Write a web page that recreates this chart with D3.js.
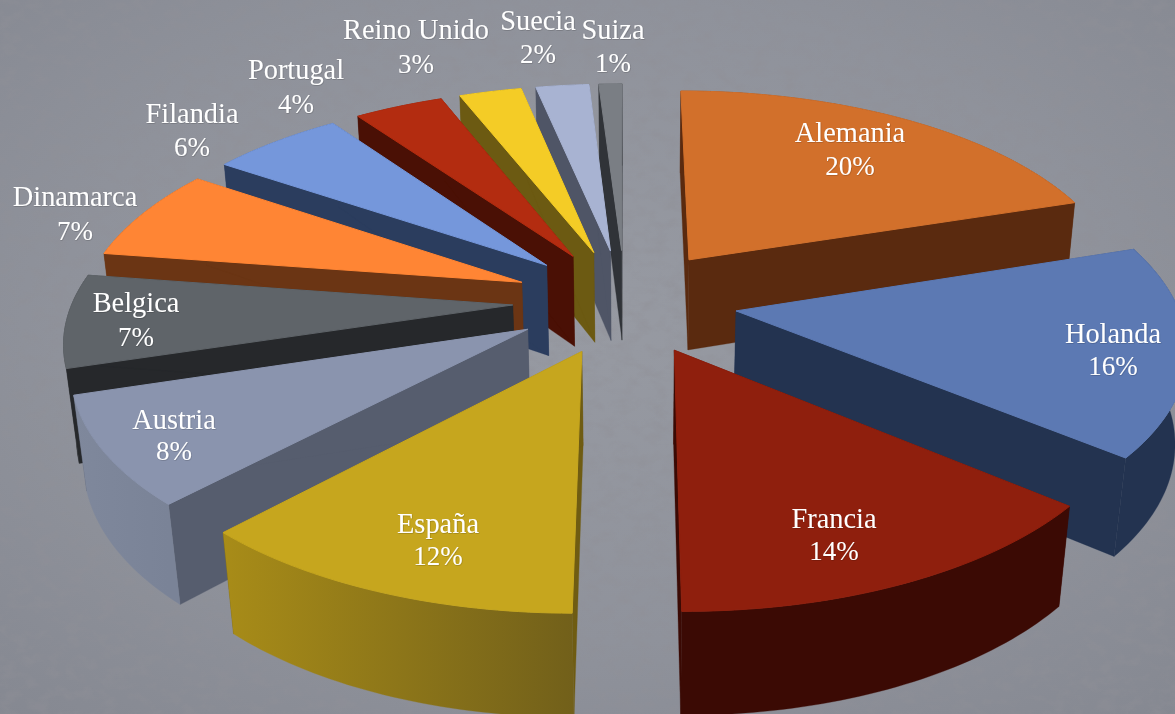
<!DOCTYPE html>
<html>
<head>
<meta charset="utf-8">
<style>
html,body{margin:0;padding:0;background:#8a8d96;overflow:hidden}
svg{display:block}
text{font-family:"Liberation Serif",serif;fill:#fff;text-anchor:middle}
.name{font-size:28.4px}
.pct{font-size:27px}
</style>
<script src="https://cdnjs.cloudflare.com/ajax/libs/d3/7.8.5/d3.min.js"></script>
</head>
<body>
<script>
// data
const categories = ["Alemania","Holanda","Francia","España","Austria","Belgica","Dinamarca","Filandia","Portugal","Reino Unido","Suecia","Suiza"];
const values = [20,16,14.05,12,8.2,7.1,7.1,5.7,3.85,2.7,2.3,1];
const valueLabels = ["20%","16%","14%","12%","8%","7%","7%","6%","4%","3%","2%","1%"];
// style
const topColors  = ["#D2702B","#5C79B3","#8F1F0D","#C6A61E","#8A94AE","#5F6469","#FF8534","#7597DB","#B32C10","#F4CC26","#A8B3D2","#7A7E84"];
const sideColors = ["#5A2A0F","#233350","#3B0A04","#6F5C12","#565D6E","#26282B","#6B3514","#2B3D5E","#4A1005","#6C5A12","#4F5566","#303338"];
const wallLeft   = ["#5A2A0F","#233350","#3B0A04","#A88C18","#7F889C","#26282B","#6B3514","#2B3D5E","#4A1005","#6C5A12","#4F5566","#303338"];
const wallRight  = ["#5A2A0F","#233350","#3B0A04","#72601A","#7A8397","#26282B","#6B3514","#2B3D5E","#4A1005","#6C5A12","#4F5566","#303338"];
// label layout (centre x, name centre y, value centre y)
const labelX  = [850,1113,834,438,174,136,75,192,296,416,538,613];
const labelY1 = [133,334,519,524,420,303,197,114,70,30,21,30];
const labelY2 = [166,366,551,556,451,337,231,147,104,64,54,63];

// camera
const W = 1175, H = 714;
const cam = {cx:625, cy:301, a:440, b:205.6, k:0.15, t:0.022, vx:640, vy:4570};
const explode = 0.255;
function project(u, v, depth){
  const w = 1 + cam.k*v;
  const x = cam.cx + cam.a*u/w;
  const y = cam.cy - cam.b*v/w;
  if(!depth) return [x,y];
  return [(x*w + cam.t*cam.vx)/(w+cam.t), (y*w + cam.t*cam.vy)/(w+cam.t)];
}

const svg = d3.select("body").append("svg").attr("width",W).attr("height",H);
const defs = svg.append("defs");
const bg = defs.append("radialGradient").attr("id","bg").attr("cx","50%").attr("cy","45%").attr("r","75%");
bg.append("stop").attr("offset","0%").attr("stop-color","#979AA2");
bg.append("stop").attr("offset","60%").attr("stop-color","#8F929B");
bg.append("stop").attr("offset","100%").attr("stop-color","#858891");
const f = defs.append("filter").attr("id","grain").attr("x",0).attr("y",0).attr("width","100%").attr("height","100%");
f.append("feTurbulence").attr("type","fractalNoise").attr("baseFrequency","0.06 0.09").attr("numOctaves",4).attr("seed",7);
f.append("feColorMatrix").attr("type","matrix").attr("values","0 0 0 0 0.28  0 0 0 0 0.28  0 0 0 0 0.31  3 0 0 0 -1.3");
const ts = defs.append("filter").attr("id","ts").attr("x","-20%").attr("y","-20%").attr("width","140%").attr("height","140%");
ts.append("feDropShadow").attr("dx",0.5).attr("dy",0.6).attr("stdDeviation",0.6).attr("flood-color","#000").attr("flood-opacity",0.25);

svg.append("rect").attr("width",W).attr("height",H).attr("fill","url(#bg)");
svg.append("rect").attr("width",W).attr("height",H).attr("filter","url(#grain)").attr("opacity",0.4);

const pie = d3.pie().sort(null).value(d=>d);
const arcs = pie(values).map((d,i)=>{
  const mid = (d.startAngle+d.endAngle)/2;
  return {i, a0:d.startAngle, a1:d.endAngle, mid, ou:explode*Math.sin(mid), ov:explode*Math.cos(mid)};
});
const line = d3.line().curve(d3.curveLinearClosed);

function rim(s, depth){
  const n = Math.max(4, Math.ceil((s.a1-s.a0)/0.02));
  return d3.range(n+1).map(j=>{
    const a = s.a0 + (s.a1-s.a0)*j/n;
    return project(s.ou+Math.sin(a), s.ov+Math.cos(a), depth);
  });
}

const order = arcs.slice().sort((p,q)=>Math.cos(q.mid)-Math.cos(p.mid));
const g = svg.append("g");
order.forEach(s=>{
  const top = rim(s,false), bot = rim(s,true);
  const apexT = project(s.ou,s.ov,false), apexB = project(s.ou,s.ov,true);
  const gs = g.append("g").attr("class","slice");
  const side = sideColors[s.i];
  // radial side walls
  [0,top.length-1].forEach(j=>{
    gs.append("path").attr("d",line([apexT,top[j],bot[j],apexB]))
      .attr("fill",side).attr("stroke",side).attr("stroke-width",0.3);
  });
  // outer wall
  const xs = top.map(p=>p[0]);
  const id = "wall"+s.i;
  const lg = defs.append("linearGradient").attr("id",id).attr("gradientUnits","userSpaceOnUse")
    .attr("x1",d3.min(xs)).attr("x2",d3.max(xs)).attr("y1",0).attr("y2",0);
  lg.append("stop").attr("offset","0%").attr("stop-color",wallLeft[s.i]);
  lg.append("stop").attr("offset","100%").attr("stop-color",wallRight[s.i]);
  gs.append("path").attr("d",line(top.concat(bot.slice().reverse())))
    .attr("fill",`url(#${id})`).attr("stroke",`url(#${id})`).attr("stroke-width",0.3);
  // top face
  gs.append("path").attr("d",line([apexT].concat(top)))
    .attr("fill",topColors[s.i]).attr("stroke",topColors[s.i]).attr("stroke-width",1);
});

const labels = svg.append("g").attr("filter","url(#ts)");
categories.forEach((c,i)=>{
  labels.append("text").attr("class","name").attr("x",labelX[i]).attr("y",labelY1[i]).attr("dy","0.32em").text(c);
  labels.append("text").attr("class","pct").attr("x",labelX[i]).attr("y",labelY2[i]).attr("dy","0.32em").text(valueLabels[i]);
});
</script>
</body>
</html>
